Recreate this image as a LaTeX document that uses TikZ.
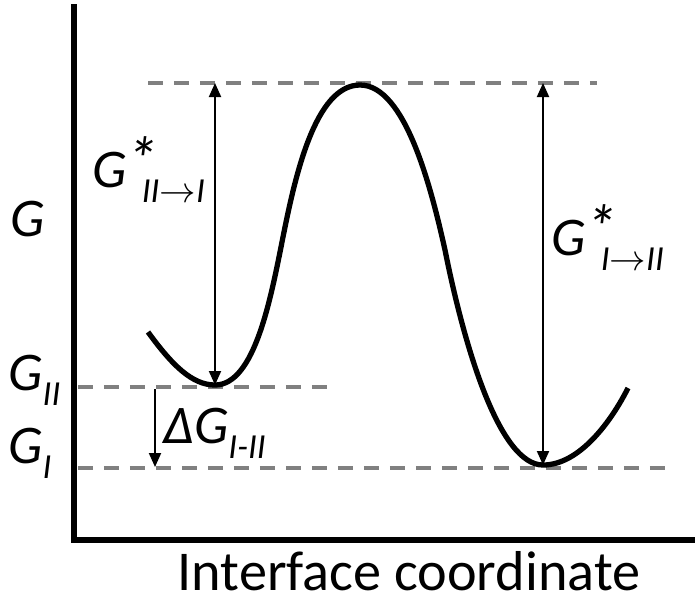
\documentclass[tikz,border=0pt]{standalone}
\usepackage{fontspec}
\setmainfont{Carlito}
\usetikzlibrary{arrows.meta}

% subscript and star for the energy labels
\newcommand{\gsub}[2]{#1\raisebox{-0.28em}{\fontsize{20}{20}\selectfont #2}}
\newcommand{\gstar}{\raisebox{0.1em}{\fontsize{36}{36}\selectfont *}\kern-0.3em}

\begin{document}
\begin{tikzpicture}[
  x=0.02cm,
  y=-0.02cm,
  font=\fontsize{31}{36}\selectfont\itshape,
  axis/.style={
    line width=3.2pt
  },
  level/.style={
    draw=gray,
    line width=2.2pt,
    dash pattern=on 0.3cm off 0.22cm
  },
  barrier/.style={
    line width=3pt,
    line join=round
  },
  gap/.style={
    line width=1.1pt,
    -{Triangle[length=0.28cm,width=0.24cm]}
  },
  twoway/.style={
    gap,
    {Triangle[length=0.28cm,width=0.24cm]}-{Triangle[length=0.28cm,width=0.24cm]}
  },
  lbl/.style={
    anchor=base west,
    inner sep=0pt
  }
]

\useasboundingbox (0,0) rectangle (695,603);

% Axes
\coordinate (ytop) at (74,4);
\coordinate (origin) at (74,540);
\coordinate (xend) at (695,540);
\draw[axis] (ytop) -- (origin) -- (xend);

% Energy levels
\coordinate (ts-l) at (148,83);
\coordinate (ts-r) at (597,83);
\coordinate (g2-l) at (78,387);
\coordinate (g2-r) at (330,387);
\coordinate (g1-l) at (78,468);
\coordinate (g1-r) at (668,468);
\draw[level] (ts-l) -- (ts-r);
\draw[level] (g2-l) -- (g2-r);
\draw[level] (g1-l) -- (g1-r);

% Free energy profile
\coordinate (start) at (148,332);
\coordinate (min2) at (215,385);
\coordinate (wall-l) at (283,237);
\coordinate (peak) at (360,85);
\coordinate (wall-r) at (445,250);
\coordinate (min1) at (543,465);
\coordinate (stop) at (628,388);
\draw[barrier] (start) .. controls (172,365) and (192,385) .. (min2)
  .. controls (255,385) and (271,297) .. (wall-l)
  .. controls (295,177) and (315,85) .. (peak)
  .. controls (405,85) and (431,187) .. (wall-r)
  .. controls (465,350) and (500,465) .. (min1)
  .. controls (580,465) and (612,420) .. (stop);

% Barrier and gap arrows
\coordinate (a1-top) at (215,83);
\coordinate (a1-bot) at (215,385);
\coordinate (a2-top) at (543,83);
\coordinate (a2-bot) at (543,465);
\coordinate (a3-top) at (155,389);
\coordinate (a3-bot) at (155,467);
\draw[twoway] (a1-top) -- (a1-bot);
\draw[twoway] (a2-top) -- (a2-bot);
\draw[gap] (a3-top) -- (a3-bot);

% Labels
\node[lbl] (gaxis) at (10,236) {G};
\node[lbl] (gts21) at (92,187) {G\gstar\gsub{}{II$\rightarrow$I}};
\node[lbl] (gts12) at (551,255) {G\gstar\gsub{}{I$\rightarrow$II}};
\node[lbl] (g2) at (8,390) {\gsub{G}{II}};
\node[lbl] (g1) at (8,463) {\gsub{G}{I}};
\node[lbl] (dg) at (163,443) {\gsub{ΔG}{I-II}};
\node[font=\fontsize{32}{36}\selectfont, anchor=base, inner sep=0pt] (xlabel) at (409,590) {Interface coordinate};

\end{tikzpicture}
\end{document}
